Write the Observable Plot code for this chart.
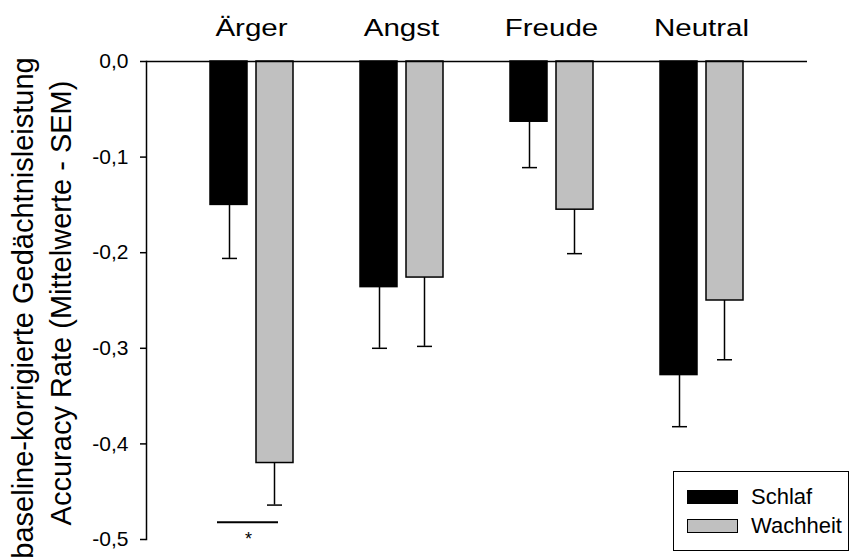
<!DOCTYPE html>
<html><head><meta charset="utf-8">
<script src="https://cdn.jsdelivr.net/npm/d3@7"></script>
<script src="https://cdn.jsdelivr.net/npm/@observablehq/plot@0.6"></script>
<style>
body{margin:0;background:#fff;}
#wrap{position:relative;width:851px;height:560px;overflow:hidden;font-family:"Liberation Sans",Arial,sans-serif;background:#fff;}
#wrap svg{display:block;}
.lg{position:absolute;box-sizing:border-box;}
</style>
</head><body><div id="wrap"></div>
<script>
const categories = ["Ärger", "Angst", "Freude", "Neutral"];
const series = ["Schlaf", "Wachheit"];
const schlaf = [-0.150, -0.236, -0.063, -0.328];
const schlafSem = [0.056, 0.064, 0.048, 0.054];
const wachheit = [-0.420, -0.226, -0.155, -0.250];
const wachheitSem = [0.044, 0.072, 0.046, 0.062];
const yTicks = [0, -0.1, -0.2, -0.3, -0.4, -0.5];
const yLabelLines = ["baseline-korrigierte Gedächtnisleistung", "Accuracy Rate (Mittelwerte - SEM)"];
const sigCategory = "Ärger";
const sigLineY = -0.482;
const sigStarY = -0.5;
const sigText = "*";

const rows = categories.map((c, i) => ({
  cat: c,
  schlaf: schlaf[i], schlafLow: schlaf[i] - schlafSem[i],
  wach: wachheit[i], wachLow: wachheit[i] - wachheitSem[i]
}));
const sig = [{cat: sigCategory, y: sigLineY, star: sigStarY}];

const plot = Plot.plot({
  width: 851, height: 560,
  marginLeft: 146, marginRight: 44, marginTop: 61, marginBottom: 21,
  style: {fontFamily: "Liberation Sans, Arial, sans-serif", background: "white", color: "black"},
  x: {domain: categories, range: [176, 776], padding: 0},
  y: {domain: [-0.5, 0]},
  marks: [
    Plot.axisX({anchor: "top", tickSize: 0, tickPadding: 26, fontSize: 24, label: null}),
    Plot.axisY({ticks: yTicks, tickSize: 6, tickPadding: 12, fontSize: 21, strokeWidth: 1.5,
      tickFormat: d => d.toFixed(1).replace(".", ","), label: null}),
    Plot.frame({anchor: "left", strokeWidth: 1.5}),
    Plot.barY(rows, {x: "cat", y1: 0, y2: "schlaf", fill: "black", stroke: "black", strokeWidth: 1.5, insetLeft: 34, insetRight: 79}),
    Plot.barY(rows, {x: "cat", y1: 0, y2: "wach", fill: "#c0c0c0", stroke: "black", strokeWidth: 1.5, insetLeft: 80, insetRight: 33}),
    Plot.ruleX(rows, {x: "cat", y1: "schlaf", y2: "schlafLow", dx: -22, strokeWidth: 1.5}),
    Plot.ruleX(rows, {x: "cat", y1: "wach", y2: "wachLow", dx: 23, strokeWidth: 1.5}),
    Plot.tickY(rows, {x: "cat", y: "schlafLow", insetLeft: 46, insetRight: 89, strokeWidth: 1.5}),
    Plot.tickY(rows, {x: "cat", y: "wachLow", insetLeft: 91, insetRight: 44, strokeWidth: 1.5}),
    Plot.ruleY([0], {strokeWidth: 1.5}),
    Plot.tickY(sig, {x: "cat", y: "y", insetLeft: 41, insetRight: 48, strokeWidth: 2}),
    Plot.text(sig, {x: "cat", y: "star", text: d => sigText, dx: -3, fontSize: 18})
  ]
});
const wrap = document.getElementById("wrap");
wrap.appendChild(plot);

// stretch category labels horizontally to match reference proportions
d3.select(plot).selectAll('g[aria-label="x-axis tick label"] text').each(function() {
  const w = this.getComputedTextLength();
  this.setAttribute("textLength", (w * 1.23).toFixed(1));
  this.setAttribute("lengthAdjust", "spacingAndGlyphs");
});

// y-axis title (two rotated lines)
const svg = d3.select(plot);
const lab = svg.append("g").attr("font-size", 29).attr("text-anchor", "middle").attr("fill", "black");
lab.append("text").attr("transform", "translate(33,308) rotate(-90)").text(yLabelLines[0]);
lab.append("text").attr("transform", "translate(71,303) rotate(-90)").text(yLabelLines[1]);

// legend overlay
const lg = d3.select(wrap);
lg.append("div").attr("class", "lg").style("left", "673px").style("top", "471px")
  .style("width", "176px").style("height", "80px").style("border", "1.5px solid black");
const sw = [["black", 490], ["#c0c0c0", 519]];
series.forEach((s, i) => {
  lg.append("div").attr("class", "lg").style("left", "687px").style("top", sw[i][1] + "px")
    .style("width", "51px").style("height", "14px").style("background", sw[i][0]).style("border", "1.5px solid black");
  lg.append("div").attr("class", "lg").style("left", "751px").style("top", (sw[i][1] - 6) + "px")
    .style("font-size", "22px").style("line-height", "26px").style("color", "black").text(s);
});
</script>
</body></html>
